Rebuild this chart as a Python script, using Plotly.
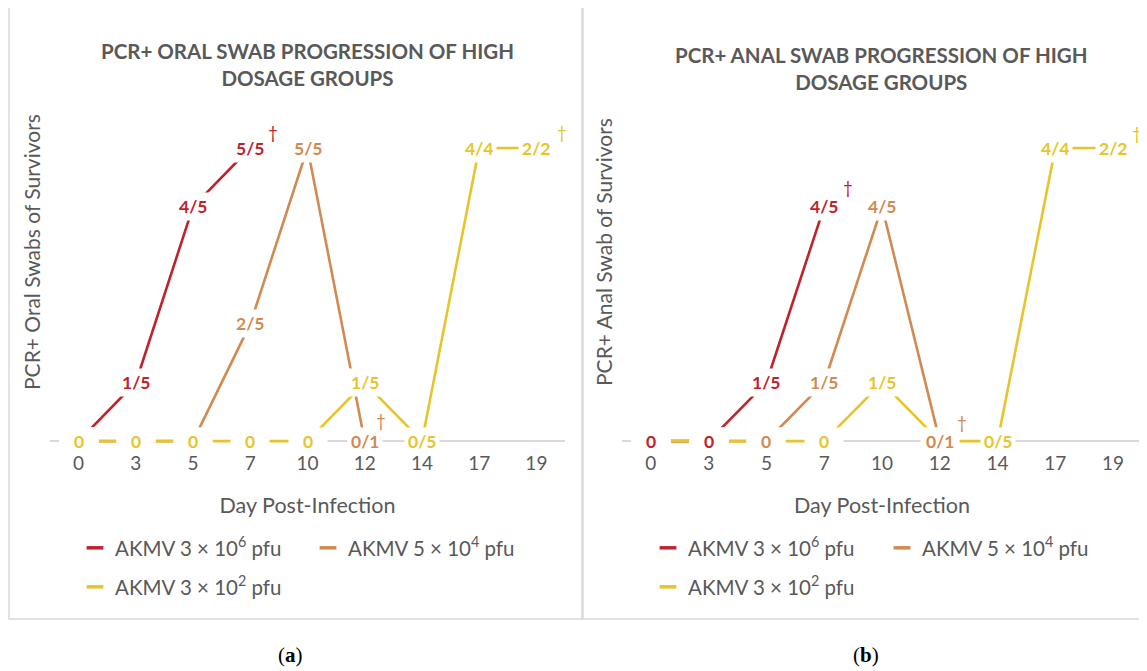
import plotly.graph_objects as go

# ---------------- data ----------------
days = ["0", "3", "5", "7", "10", "12", "14", "17", "19"]

series_names = [
    "AKMV 3 × 10<sup>6</sup> pfu",
    "AKMV 5 × 10<sup>4</sup> pfu",
    "AKMV 3 × 10<sup>2</sup> pfu",
]

# (a) oral swabs – proportion PCR+ of survivors
oral_high = [0, 0.2, 0.8, 1.0, None, None, None, None, None]
oral_high_lbl = ["0", "1/5", "4/5", "5/5", "", "", "", "", ""]
oral_mid = [0, 0, 0, 0.4, 1.0, 0, None, None, None]
oral_mid_lbl = ["0", "0", "0", "2/5", "5/5", "0/1", "", "", ""]
oral_low = [0, 0, 0, 0, 0, 0.2, 0, 1.0, 1.0]
oral_low_lbl = ["0", "0", "0", "0", "0", "1/5", "0/5", "4/4", "2/2"]
oral_death_idx = [3, 5, 8]   # day index of last survivors (†) for high, mid, low

# (b) anal swabs
anal_high = [0, 0, 0.2, 0.8, None, None, None, None, None]
anal_high_lbl = ["0", "0", "1/5", "4/5", "", "", "", "", ""]
anal_mid = [0, 0, 0, 0.2, 0.8, 0, None, None, None]
anal_mid_lbl = ["0", "0", "0", "1/5", "4/5", "0/1", "", "", ""]
anal_low = [0, 0, 0, 0, 0.2, 0, 0, 1.0, 1.0]
anal_low_lbl = ["0", "0", "0", "0", "1/5", "0", "0/5", "4/4", "2/2"]
anal_death_idx = [3, 5, 8]

titles = ["PCR+ ORAL SWAB PROGRESSION OF HIGH<br>DOSAGE GROUPS",
          "PCR+ ANAL SWAB PROGRESSION OF HIGH<br>DOSAGE GROUPS"]
ytitles = ["PCR+ Oral Swabs of Survivors", "PCR+ Anal Swab of Survivors"]
xtitle = "Day Post-Infection"
captions = ["a", "b"]

# ---------------- style ----------------
PAGE_OFF = 8                      # default body margin of the html page
W, H = 1147 - PAGE_OFF, 671 - PAGE_OFF
COLORS = ["#C0222C", "#D08A52", "#E8C42C"]
GREY = "#595959"
LINEGREY = "#D9D9D9"
FONT = "Lato"


def px(x):
    return (x - PAGE_OFF) / W


def py(y):
    return 1 - (y - PAGE_OFF) / H


fig = go.Figure()

panels = [
    dict(vals=[oral_high, oral_mid, oral_low],
         lbls=[oral_high_lbl, oral_mid_lbl, oral_low_lbl],
         deaths=oral_death_idx, order=[0, 1, 2],
         xdom=(50, 565), xa="x", ya="y",
         title_xy=(307, 64), ytitle_xy=(31, 252),
         dagger=[(23, 16), (16, 21), (26, 16)],
         leg_x=(75, 308), cap_x=290),
    dict(vals=[anal_high, anal_mid, anal_low],
         lbls=[anal_high_lbl, anal_mid_lbl, anal_low_lbl],
         deaths=anal_death_idx, order=[2, 1, 0],
         xdom=(622, 1142), xa="x2", ya="y2",
         title_xy=(881, 68), ytitle_xy=(603, 252),
         dagger=[(24, 19), (22, 19), (24, 15)],
         leg_x=(648, 882), cap_x=866),
]

annotations = []
legend_layouts = {}
leg_counter = 0

for p_i, p in enumerate(panels):
    # lines
    for s in range(3):
        fig.add_trace(go.Scatter(
            x=days, y=p["vals"][s], mode="lines",
            line=dict(color=COLORS[s], width=2.6),
            connectgaps=False, showlegend=False, hoverinfo="skip",
            xaxis=p["xa"], yaxis=p["ya"], name=series_names[s]))
    # data labels (white boxes cut the lines like the original);
    # category axis -> annotation x given as category index
    for s in p["order"]:
        for i, (v, t) in enumerate(zip(p["vals"][s], p["lbls"][s])):
            if v is None or t == "":
                continue
            a = dict(x=i, y=v, xref=p["xa"], yref=p["ya"],
                     text="<b>%s</b>" % t, showarrow=False,
                     xanchor="center", yanchor="middle",
                     font=dict(family=FONT, size=17.5, color=COLORS[s]),
                     bgcolor="white", borderpad=3)
            if len(t) == 1:
                a["width"] = 32
            annotations.append(a)
    # daggers
    for s in range(3):
        i = p["deaths"][s]
        dx, dy = p["dagger"][s]
        annotations.append(dict(
            x=i, y=p["vals"][s][i], xref=p["xa"], yref=p["ya"],
            text="†", showarrow=False, xshift=dx, yshift=dy,
            xanchor="center", yanchor="middle",
            font=dict(family=FONT, size=17, color=COLORS[s])))
    # chart title
    annotations.append(dict(
        x=px(p["title_xy"][0]), y=py(p["title_xy"][1]), xref="paper", yref="paper",
        text="<b>%s</b>" % titles[p_i], showarrow=False,
        xanchor="center", yanchor="middle",
        font=dict(family=FONT, size=20.5, color=GREY)))
    # y title
    annotations.append(dict(
        x=px(p["ytitle_xy"][0]), y=py(p["ytitle_xy"][1]), xref="paper", yref="paper",
        text=ytitles[p_i], showarrow=False, textangle=-90,
        xanchor="center", yanchor="middle",
        font=dict(family=FONT, size=21, color=GREY)))
    # caption
    annotations.append(dict(
        x=px(p["cap_x"]), y=py(655), xref="paper", yref="paper",
        text="(<b>%s</b>)" % captions[p_i], showarrow=False,
        xanchor="center", yanchor="middle",
        font=dict(family="Liberation Serif", size=21, color="black")))
    # legends: one entry per legend box for exact placement
    leg_pos = [(p["leg_x"][0], 548), (p["leg_x"][1], 548), (p["leg_x"][0], 587)]
    for s in range(3):
        leg_counter += 1
        key = "legend" if leg_counter == 1 else "legend%d" % leg_counter
        fig.add_trace(go.Scatter(
            x=[None], y=[None], mode="markers", name=series_names[s],
            marker=dict(symbol="line-ew", size=12,
                        line=dict(color=COLORS[s], width=3.5)),
            legend=key, showlegend=True,
            xaxis=p["xa"], yaxis=p["ya"]))
        legend_layouts[key] = dict(
            x=px(leg_pos[s][0]), y=py(leg_pos[s][1]), xanchor="left", yanchor="middle",
            orientation="h", bgcolor="rgba(0,0,0,0)",
            font=dict(family=FONT, size=20.5, color=GREY))

# axes
y_bottom_px, y_top_px = 447, 89.4
for p_i, p in enumerate(panels):
    xkey = "xaxis" if p_i == 0 else "xaxis2"
    ykey = "yaxis" if p_i == 0 else "yaxis2"
    fig.layout[xkey] = dict(
        domain=[px(p["xdom"][0]), min(px(p["xdom"][1]), 1)], anchor=p["ya"],
        type="category", categoryorder="array", categoryarray=days,
        range=[-0.5, len(days) - 0.5],
        showgrid=False, showline=False, zeroline=False, ticks="",
        tickfont=dict(family=FONT, size=19, color=GREY),
        ticklabelstandoff=3,
        title=dict(text=xtitle, standoff=24,
                   font=dict(family=FONT, size=21.5, color=GREY)))
    fig.layout[ykey] = dict(
        domain=[py(y_bottom_px), py(y_top_px)], anchor=p["xa"],
        range=[-0.02, 1.2], showticklabels=False, showgrid=False,
        showline=False, ticks="", zeroline=True,
        zerolinecolor=LINEGREY, zerolinewidth=1.6)

# panel frames
shapes = [
    dict(type="rect", xref="paper", yref="paper", x0=px(9), x1=px(582),
         y0=py(619), y1=py(7), line=dict(color=LINEGREY, width=1.5)),
    dict(type="rect", xref="paper", yref="paper", x0=px(583), x1=px(1149),
         y0=py(619), y1=py(7), line=dict(color=LINEGREY, width=1.5)),
]

fig.update_layout(
    width=W, height=H, margin=dict(l=0, r=0, t=0, b=0),
    paper_bgcolor="white", plot_bgcolor="white",
    annotations=annotations, shapes=shapes,
    font=dict(family=FONT, color=GREY),
    **legend_layouts)

fig.write_html("out.html")
